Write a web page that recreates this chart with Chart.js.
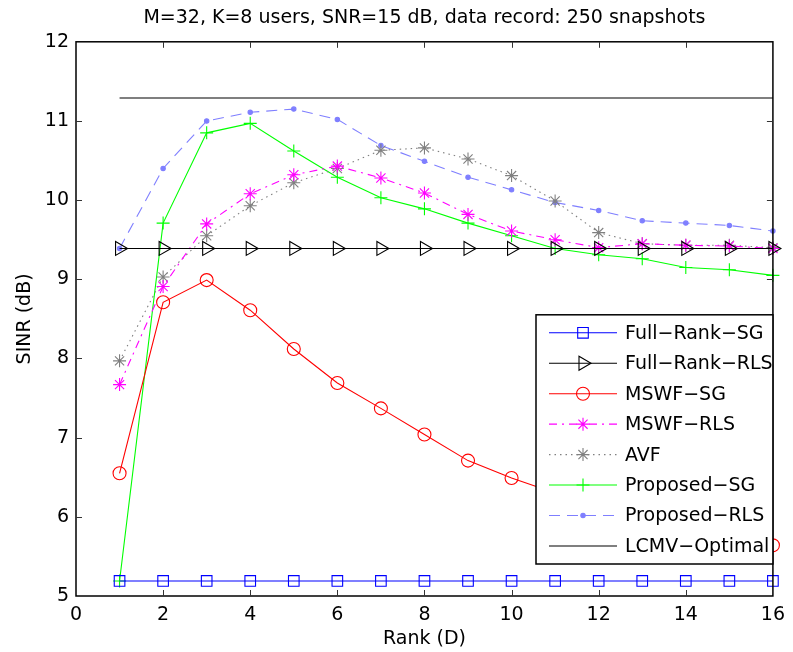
<!DOCTYPE html>
<html><head><meta charset="utf-8">
<script src="https://cdn.jsdelivr.net/npm/chart.js@4"></script>
<style>html,body{margin:0;padding:0;background:#fff}#wrap{width:793px;height:652px}</style>
</head><body><div id="wrap"><canvas id="c" width="793" height="652"></canvas></div>
<script>
const titleText = "M=32, K=8 users, SNR=15 dB, data record: 250 snapshots";
const xLabel = "Rank (D)";
const yLabel = "SINR (dB)";
const ranks = [1,2,3,4,5,6,7,8,9,10,11,12,13,14,15,16];
const fullRankSG  = [5.19,5.19,5.19,5.19,5.19,5.19,5.19,5.19,5.19,5.19,5.19,5.19,5.19,5.19,5.19,5.19];
const fullRankRLS = [9.39,9.39,9.39,9.39,9.39,9.39,9.39,9.39,9.39,9.39,9.39,9.39,9.39,9.39,9.39,9.39];
const mswfSG      = [6.55,8.71,8.99,8.61,8.12,7.69,7.37,7.04,6.71,6.49,6.30,6.14,5.99,5.86,5.75,5.64];
const mswfRLS     = [7.67,8.91,9.70,10.08,10.32,10.43,10.28,10.09,9.82,9.61,9.50,9.40,9.45,9.43,9.42,9.39];
const avf         = [7.97,9.03,9.55,9.93,10.22,10.40,10.63,10.66,10.52,10.31,9.99,9.59,9.45,9.43,9.43,9.40];
const proposedSG  = [5.19,9.71,10.85,10.97,10.62,10.29,10.03,9.89,9.71,9.55,9.39,9.31,9.26,9.15,9.12,9.05];
const proposedRLS = [9.39,10.40,11.00,11.11,11.15,11.02,10.69,10.49,10.29,10.13,9.97,9.87,9.74,9.71,9.68,9.61];
const lcmvOptimal = [11.29,11.29,11.29,11.29,11.29,11.29,11.29,11.29,11.29,11.29,11.29,11.29,11.29,11.29,11.29,11.29];
const seriesNames = ["Full\u2212Rank\u2212SG","Full\u2212Rank\u2212RLS","MSWF\u2212SG","MSWF\u2212RLS","AVF","Proposed\u2212SG","Proposed\u2212RLS","LCMV\u2212Optimal"];
const xTicks = [0,2,4,6,8,10,12,14,16];
const yTicks = [5,6,7,8,9,10,11,12];

const FONT = "'DejaVu Sans', Verdana, sans-serif";
const pts = arr => arr.map((v,i)=>({x:ranks[i], y:v}));
const clear = 'rgba(0,0,0,0)';

function ds(label, data, color, style, radius, dash, rotation, filled){
  return {
    label, data: pts(data), borderColor: color, backgroundColor: color,
    borderWidth: 1.1, borderDash: dash || [],
    pointStyle: style || 'circle', pointRadius: radius, pointHoverRadius: radius,
    pointRotation: rotation || 0,
    pointBorderColor: color, pointBackgroundColor: filled ? color : clear,
    pointBorderWidth: 1.1, tension: 0, fill: false, clip: false
  };
}

const datasets = [
  ds(seriesNames[0], fullRankSG, '#0000ff', 'rect', 7.5),
  ds(seriesNames[1], fullRankRLS, '#000000', 'triangle', 8, [], 90),
  ds(seriesNames[2], mswfSG, '#ff0000', 'circle', 6.5),
  ds(seriesNames[3], mswfRLS, '#ff00ff', 'star', 6.5, [8,5,2,5]),
  ds(seriesNames[4], avf, '#808080', 'star', 6.5, [1.5,4]),
  ds(seriesNames[5], proposedSG, '#00ff00', 'cross', 6.5),
  ds(seriesNames[6], proposedRLS, '#7f7fff', 'circle', 2.2, [11,7], 0, true),
  ds(seriesNames[7], lcmvOptimal, '#000000', 'circle', 0)
];

const centerTitlePlugin = {
  id: 'centerTitle',
  afterLayout(chart){
    const t = chart.titleBlock, a = chart.chartArea;
    if (t) { t.left = a.left; t.right = a.right; t.width = a.right - a.left; }
  }
};

const framePlugin = {
  id: 'frame',
  afterDatasetsDraw(chart){
    const {ctx, chartArea:a, scales:{x, y}} = chart;
    ctx.save();
    ctx.strokeStyle = '#000'; ctx.lineWidth = 1.5; ctx.setLineDash([]);
    ctx.strokeRect(a.left, a.top, a.right - a.left, a.bottom - a.top);
    ctx.strokeStyle = '#333'; ctx.lineWidth = 1;
    const tl = 6;
    ctx.beginPath();
    xTicks.forEach(v => {
      const px = Math.round(x.getPixelForValue(v)) + 0.5;
      if (v === xTicks[0] || v === xTicks[xTicks.length-1]) return;
      ctx.moveTo(px, a.bottom); ctx.lineTo(px, a.bottom - tl);
      ctx.moveTo(px, a.top); ctx.lineTo(px, a.top + tl);
    });
    yTicks.forEach(v => {
      const py = Math.round(y.getPixelForValue(v)) + 0.5;
      if (v === yTicks[0] || v === yTicks[yTicks.length-1]) return;
      ctx.moveTo(a.left, py); ctx.lineTo(a.left + tl, py);
      ctx.moveTo(a.right, py); ctx.lineTo(a.right - tl, py);
    });
    ctx.stroke();
    ctx.restore();
  }
};

const legendPlugin = {
  id: 'boxLegend',
  afterDraw(chart){
    const {ctx, chartArea:a} = chart;
    const box = {left: a.left + 460, right: a.right, top: a.top + 273, bottom: a.bottom - 32};
    ctx.save();
    ctx.fillStyle = '#fff';
    ctx.fillRect(box.left, box.top, box.right - box.left, box.bottom - box.top);
    ctx.strokeStyle = '#000'; ctx.lineWidth = 1.5; ctx.setLineDash([]);
    ctx.strokeRect(box.left, box.top, box.right - box.left, box.bottom - box.top);
    chart.data.datasets.forEach((d, i) => {
      const yy = box.top + 18 + i * 30.45;
      const x0 = box.left + 13, x1 = box.left + 81, xm = box.left + 47;
      ctx.strokeStyle = d.borderColor; ctx.lineWidth = d.borderWidth;
      ctx.setLineDash(d.borderDash);
      ctx.beginPath(); ctx.moveTo(x0, yy); ctx.lineTo(x1, yy); ctx.stroke();
      ctx.setLineDash([]);
      if (d.pointRadius > 0) {
        ctx.strokeStyle = d.pointBorderColor; ctx.fillStyle = d.pointBackgroundColor;
        ctx.lineWidth = d.pointBorderWidth;
        Chart.helpers.drawPoint(ctx, {pointStyle: d.pointStyle, radius: d.pointRadius, rotation: d.pointRotation, borderWidth: d.pointBorderWidth}, xm, yy);
      }
      ctx.fillStyle = '#000'; ctx.font = '19px ' + FONT;
      ctx.textBaseline = 'middle'; ctx.textAlign = 'left';
      ctx.fillText(d.label, box.left + 89, yy + 1);
    });
    ctx.restore();
  }
};

new Chart(document.getElementById('c'), {
  type: 'line',
  data: { datasets },
  options: {
    responsive: false, animation: false, devicePixelRatio: 1,
    layout: { padding: { left: 0, right: 14, top: 0, bottom: 0 } },
    plugins: {
      legend: { display: false }, tooltip: { enabled: false },
      title: { display: true, text: titleText, color: '#000',
        font: { family: FONT, size: 19, weight: 'normal' }, padding: { top: 7, bottom: 12 } }
    },
    scales: {
      x: {
        type: 'linear', min: 0, max: 16,
        afterFit(s){ s.height = 56; },
        afterBuildTicks(s){ s.ticks = xTicks.map(v => ({value: v})); },
        grid: { display: false, drawTicks: false }, border: { display: false },
        ticks: { color: '#000', padding: 8, font: { family: FONT, size: 19 } },
        title: { display: true, text: xLabel, color: '#000', font: { family: FONT, size: 19 }, padding: { top: 0, bottom: 2 } }
      },
      y: {
        type: 'linear', min: 5, max: 12,
        afterFit(s){ s.width = 76; },
        afterBuildTicks(s){ s.ticks = yTicks.map(v => ({value: v})); },
        grid: { display: false, drawTicks: false }, border: { display: false },
        ticks: { color: '#000', padding: 7, font: { family: FONT, size: 19 } },
        title: { display: true, text: yLabel, color: '#000', font: { family: FONT, size: 19 }, padding: { top: 14, bottom: 0 } }
      }
    }
  },
  plugins: [centerTitlePlugin, framePlugin, legendPlugin]
});
</script>
</body></html>
